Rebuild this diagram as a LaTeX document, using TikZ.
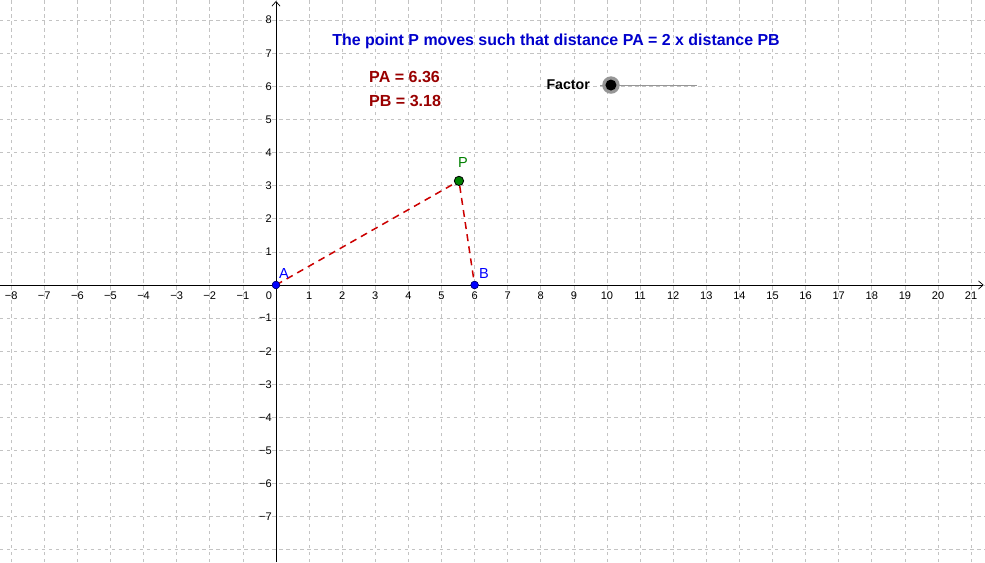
\documentclass[tikz,border=0pt]{standalone}
\usepackage{fontspec}
\setmainfont{Liberation Sans}
\usetikzlibrary{arrows.meta}
\definecolor{gridgray}{RGB}{195,195,195}
\definecolor{ggblue}{RGB}{0,0,204}
\definecolor{ggred}{RGB}{153,0,0}
\definecolor{segred}{RGB}{204,0,0}
\definecolor{ptblue}{RGB}{0,0,255}
\definecolor{ptgreen}{RGB}{0,128,0}
\definecolor{slidergray}{RGB}{150,150,150}
\tikzset{
  gridline/.style={draw=gridgray, line width=0.6pt, dash pattern=on 3pt off 3pt},
  axisline/.style={draw=black, line width=0.8pt, -{Straight Barb[length=4pt,width=7pt,line width=0.6pt]}},
  ticklbl/.style={font=\fontsize{9.5}{10}\selectfont, inner sep=0pt},
  seg/.style={draw=segred, line width=1.3pt, dash pattern=on 6pt off 4.5pt},
  bluept/.style={circle, fill=ptblue, draw=black!60!ptblue, line width=0.4pt, minimum size=6.5pt, inner sep=0pt},
  greenpt/.style={circle, fill=ptgreen, draw=black, line width=0.7pt, minimum size=8pt, inner sep=0pt},
  ptlabel/.style={font=\fontsize{12.5}{14}\selectfont, inner sep=0pt},
  titletext/.style={font=\bfseries\fontsize{13.7}{16}\selectfont, text=ggblue, inner sep=0pt},
  valtext/.style={font=\bfseries\fontsize{13.8}{16}\selectfont, text=ggred, inner sep=0pt, anchor=west},
}
\begin{document}
\begin{tikzpicture}[x=1cm,y=1cm]
\useasboundingbox[fill=white] (-8.338,-8.369) rectangle (21.42,8.61);
% grid
\foreach \i in {-8,...,21} { \draw[gridline] (\i,-8.369) -- (\i,8.61); }
\foreach \j in {-8,...,8} { \draw[gridline] (-8.338,\j) -- (21.42,\j); }
% axes
\coordinate (xs) at (-8.338,0);
\coordinate (xe) at (21.38,0);
\coordinate (ys) at (0,-8.369);
\coordinate (ye) at (0,8.58);
\draw[axisline] (xs) -- (xe);
\draw[axisline] (ys) -- (ye);
% tick labels
\foreach \i in {-8,...,-1} { \node[ticklbl] (xl\i) at (\i,-0.33) {−\the\numexpr-\i\relax}; }
\foreach \i in {1,...,21} { \node[ticklbl] (xl\i) at (\i,-0.33) {\i}; }
\node[ticklbl] (zero) at (-0.21,-0.33) {0};
\foreach \j in {1,...,8} { \node[ticklbl, anchor=east] (yl\j) at (-0.12,\j) {\j}; }
\foreach \j in {-7,...,-1} { \node[ticklbl, anchor=east] (yl\j) at (-0.12,\j) {−\the\numexpr-\j\relax}; }
% texts
\node[titletext] (title) at (8.46,7.37) {The point P moves such that distance PA = 2 x distance PB};
\node[valtext] (pa) at (2.81,6.28) {PA = 6.36};
\node[valtext] (pb) at (2.81,5.56) {PB = 3.18};
\node[font=\bfseries\fontsize{12.2}{14}\selectfont, anchor=east, inner sep=0pt] (factor) at (9.49,6.04) {Factor};
% slider
\coordinate (sl) at (9.79,6.04);
\coordinate (sr) at (12.72,6.04);
\draw[slidergray, line width=0.6pt] (sl) -- (sr);
\node[circle, fill=slidergray, minimum size=15pt, inner sep=0pt] (knobring) at (10.12,6.04) {};
\node[circle, fill=black, minimum size=9.5pt, inner sep=0pt] (knob) at (knobring) {};
% points
\node[bluept] (A) at (0,0) {};
\node[bluept] (B) at (6,0) {};
\node[greenpt] (P) at (5.528,3.145) {};
\draw[seg] (A.center) -- (P);
\draw[seg] (P) -- (B.center);
\node[bluept] at (A) {};
\node[bluept] at (B) {};
\node[ptlabel, text=ptblue] (Al) at (0.24,0.34) {A};
\node[ptlabel, text=ptblue] (Bl) at (6.28,0.34) {B};
\node[ptlabel, text=ptgreen] (Pl) at (5.65,3.7) {P};
\end{tikzpicture}
\end{document}
